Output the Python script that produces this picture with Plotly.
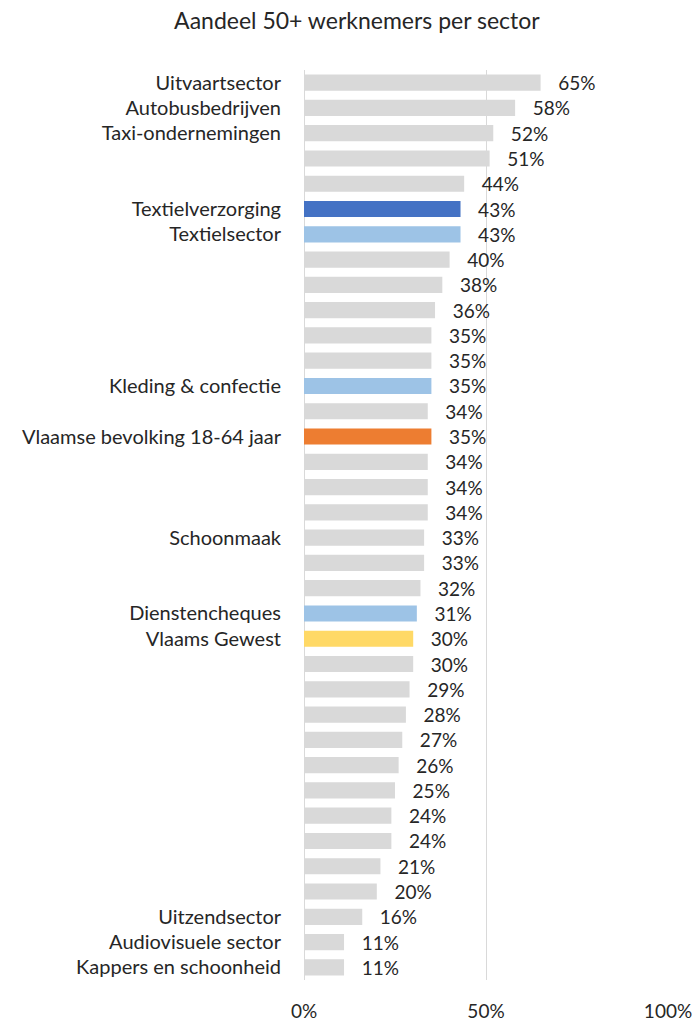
import plotly.graph_objects as go

# ---- data ----
sectors = [
    "Uitvaartsector", "Autobusbedrijven", "Taxi-ondernemingen", "", "",
    "Textielverzorging", "Textielsector", "", "", "", "", "",
    "Kleding & confectie", "", "Vlaamse bevolking 18-64 jaar", "", "", "",
    "Schoonmaak", "", "", "Dienstencheques", "Vlaams Gewest", "", "", "",
    "", "", "", "", "", "", "", "Uitzendsector", "Audiovisuele sector",
    "Kappers en schoonheid",
]
share = [
    65, 58, 52, 51, 44, 43, 43, 40, 38, 36, 35, 35, 35, 34, 35, 34, 34, 34,
    33, 33, 32, 31, 30, 30, 29, 28, 27, 26, 25, 24, 24, 21, 20, 16, 11, 11,
]
group = [
    "other", "other", "other", "other", "other", "focus", "textile", "other",
    "other", "other", "other", "other", "textile", "other", "population",
    "other", "other", "other", "other", "other", "other", "textile", "region",
    "other", "other", "other", "other", "other", "other", "other", "other",
    "other", "other", "other", "other", "other",
]
x_ticks = [0, 50, 100]
x_tick_labels = ["0%", "50%", "100%"]

# ---- style ----
palette = {
    "other": "#d9d9d9",
    "focus": "#4472c4",
    "textile": "#9dc3e6",
    "population": "#ed7d31",
    "region": "#ffd966",
}
FONT = "Lato, 'Open Sans', sans-serif"
TXT = "#262626"

rows = list(range(len(sectors)))
colors = [palette[g] for g in group]
labels = ["   %d%%" % v for v in share]

fig = go.Figure(
    go.Bar(
        x=share,
        y=rows,
        orientation="h",
        marker=dict(color=colors, line=dict(width=0)),
        width=0.64,
        text=labels,
        textposition="outside",
        constraintext="none",
        cliponaxis=False,
        textfont=dict(family=FONT, size=19, color=TXT),
        hoverinfo="skip",
    )
)

tick_rows = [i for i, s in enumerate(sectors) if s]
tick_text = [sectors[i] for i in tick_rows]

fig.update_layout(
    width=697,
    height=1021,
    margin=dict(l=304, r=29, t=70, b=41),
    paper_bgcolor="white",
    plot_bgcolor="white",
    showlegend=False,
    title=dict(
        text="Aandeel 50+ werknemers per sector",
        x=0.512,
        xanchor="center",
        y=0.9795,
        yanchor="middle",
        font=dict(family=FONT, size=23, color=TXT),
    ),
    xaxis=dict(
        range=[0, 100],
        tickvals=x_ticks,
        ticktext=x_tick_labels,
        showgrid=True,
        gridcolor="#d9d9d9",
        gridwidth=1,
        zeroline=True,
        zerolinecolor="#d9d9d9",
        zerolinewidth=1,
        showline=False,
        ticks="",
        ticklabelstandoff=18,
        tickfont=dict(family=FONT, size=19, color=TXT),
        automargin=False,
        fixedrange=True,
    ),
    yaxis=dict(
        range=[35.5, -0.5],
        tickvals=tick_rows,
        ticktext=tick_text,
        showgrid=False,
        zeroline=False,
        showline=False,
        ticks="",
        ticklabelstandoff=22,
        tickfont=dict(family=FONT, size=20, color=TXT),
        automargin=False,
        fixedrange=True,
    ),
)

fig.write_html(
    "out.html",
    config={"displayModeBar": False, "staticPlot": True},
    post_script="document.body.style.margin='0';",
)
